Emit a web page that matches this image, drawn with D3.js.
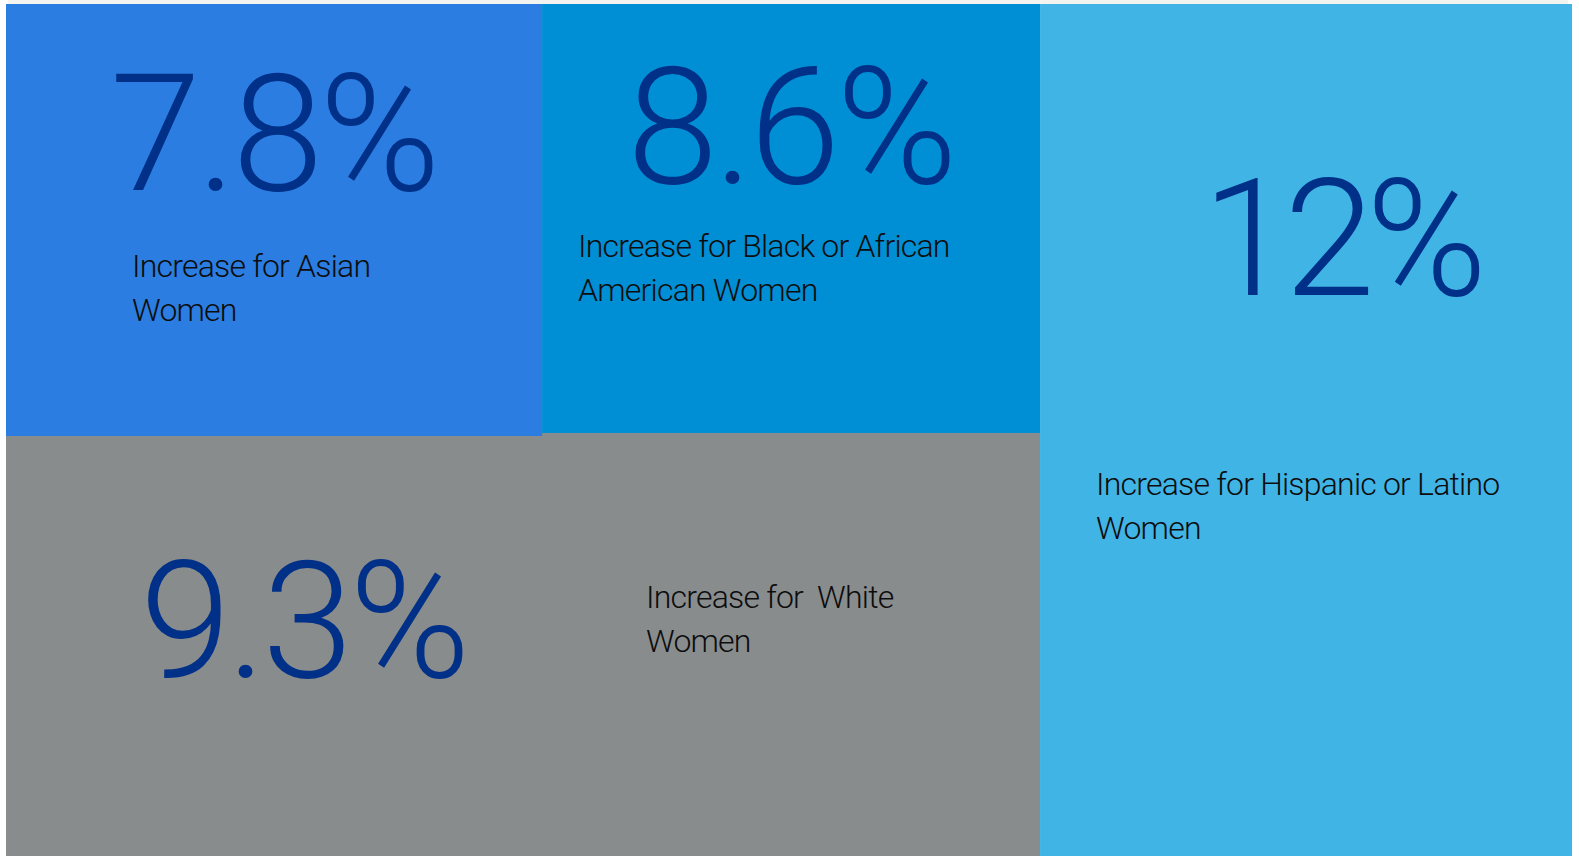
<!DOCTYPE html>
<html>
<head>
<meta charset="utf-8">
<script src="https://cdn.jsdelivr.net/npm/d3@7"></script>
<style>
  html, body { margin: 0; padding: 0; background: #ffffff; }
  svg { display: block; }
  .num { font-family: Roboto, "Liberation Sans", sans-serif; font-weight: 300; fill: #003087; }
  .lbl { font-family: Roboto, "Liberation Sans", sans-serif; font-weight: 300; fill: #0d0d0d; white-space: pre; }
</style>
</head>
<body>
<div id="chart"></div>
<script>
// values
var groups = ["Asian", "Black or African American", "White", "Hispanic or Latino"];
var increases = [7.8, 8.6, 9.3, 12];
var labelLines = [
  ["Increase for Asian", "Women"],
  ["Increase for Black or African", "American Women"],
  ["Increase for  White", "Women"],
  ["Increase for Hispanic or Latino", "Women"]
];
var colors = ["#2b7de1", "#008fd5", "#888c8d", "#41b4e6"];

// layout of the tiles, in fractions of the panel
var cells = [
  {x0: 0,      x1: 0.3423, y0: 0,      y1: 0.507},
  {x0: 0.3423, x1: 0.6603, y0: 0,      y1: 0.5035},
  {x0: 0,      x1: 0.6603, y0: 0.5035, y1: 1},
  {x0: 0.6603, x1: 1,      y0: 0,      y1: 1}
];
// text placement inside each tile (px from tile corner)
var numPos = [{x: 104, y: 186}, {x: 85, y: 179}, {x: 134, y: 244}, {x: 162, y: 291}];
var numSpacing = [-4, -4, -4, -9];
var lblPos = [{x: 126, y: 273}, {x: 36, y: 253}, {x: 640, y: 175}, {x: 56, y: 491}];
var drawOrder = [2, 0, 1, 3];

var W = 1579, H = 856;
var x = d3.scaleLinear().domain([0, 1]).range([6, 1572]);
var y = d3.scaleLinear().domain([0, 1]).range([4, 856]);

var svg = d3.select("#chart").append("svg")
  .attr("width", W)
  .attr("height", H);

// thin light strip along the top
svg.append("rect")
  .attr("x", 8).attr("y", 0)
  .attr("width", 1560).attr("height", 4)
  .attr("fill", "#f3f3f0");

var fmt = function (v) { return d3.format("")(v) + "%"; };

var tiles = svg.selectAll("g.tile")
  .data(drawOrder)
  .enter().append("g")
  .attr("class", "tile")
  .attr("transform", function (i) { return "translate(" + x(cells[i].x0) + "," + y(cells[i].y0) + ")"; });

tiles.append("rect")
  .attr("width", function (i) { return x(cells[i].x1) - x(cells[i].x0); })
  .attr("height", function (i) { return y(cells[i].y1) - y(cells[i].y0); })
  .attr("fill", function (i) { return colors[i]; });

tiles.append("text")
  .attr("class", "num")
  .attr("x", function (i) { return numPos[i].x; })
  .attr("y", function (i) { return numPos[i].y; })
  .style("font-size", "164px")
  .style("letter-spacing", function (i) { return numSpacing[i] + "px"; })
  .text(function (i) { return fmt(increases[i]); });

tiles.each(function (i) {
  var t = d3.select(this).append("text")
    .attr("class", "lbl")
    .attr("x", lblPos[i].x)
    .attr("y", lblPos[i].y)
    .style("font-size", "32px")
    .style("letter-spacing", "-0.8px");
  labelLines[i].forEach(function (line, k) {
    t.append("tspan")
      .attr("x", lblPos[i].x)
      .attr("dy", k === 0 ? 0 : 44)
      .text(line);
  });
});
</script>
</body>
</html>
